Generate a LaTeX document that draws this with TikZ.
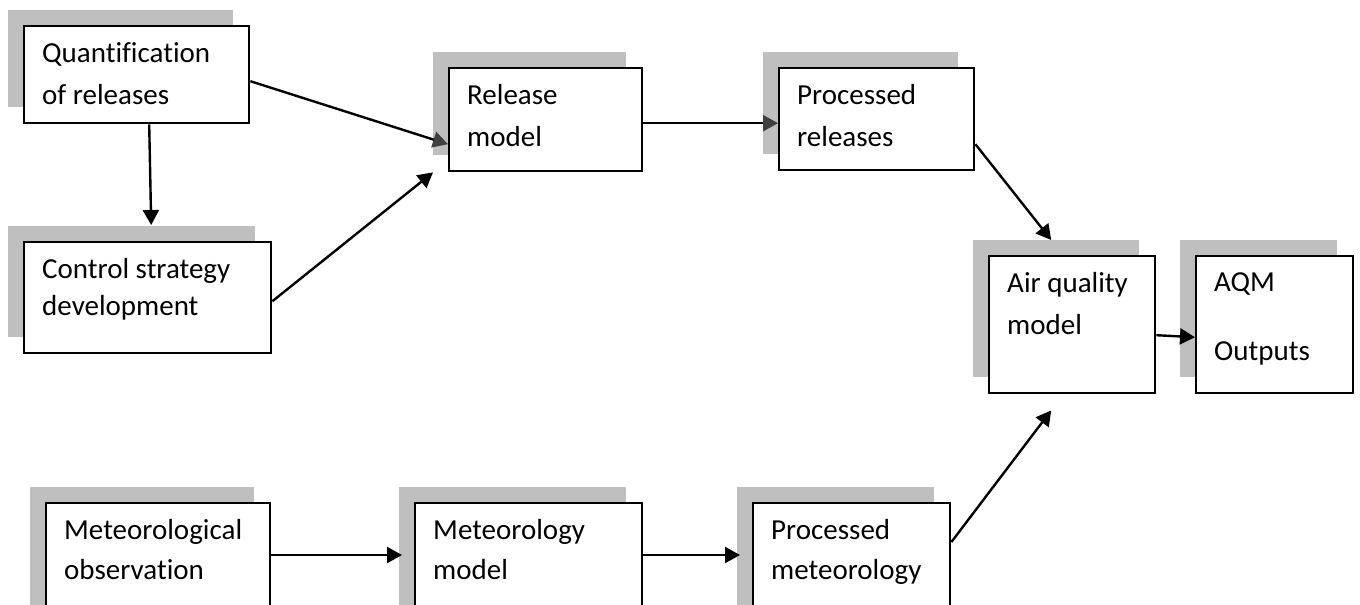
\documentclass[tikz,border=0pt]{standalone}
\usepackage{fontspec}
\setmainfont{Carlito}[Ligatures=CommonOff]
\usetikzlibrary{arrows.meta,shadows}
\definecolor{shadowgray}{RGB}{191,191,191}
\definecolor{tipgray}{RGB}{64,64,64}
\tikzset{
  stage/.style={
    draw=black,
    fill=white,
    line width=2.4pt,
    inner sep=0pt,
    anchor=north west,
    drop shadow={shadow xshift=-16pt, shadow yshift=16pt, fill=shadowgray, opacity=1}
  },
  stage-text/.style={
    anchor=north west,
    xshift=19pt,
    yshift=-17pt,
    inner sep=0pt,
    align=left,
    font=\fontsize{29}{42}\selectfont
  },
  flow/.style={line width=2.4pt, -{Triangle[length=15pt,width=16pt]}},
  flow-grey/.style={line width=2.4pt, -{Triangle[length=15pt,width=16pt,color=tipgray]}}
}

\begin{document}
\begin{tikzpicture}[x=1pt, y=-1pt]
  \useasboundingbox (0,0) rectangle (1360,605);

  % Release branch (top)
  \node[stage, minimum width=225pt, minimum height=97pt,
    label={[stage-text]north west:{Quantification\\of releases}}] (quant) at (23,25) {};
  \node[stage, minimum width=247pt, minimum height=111pt,
    label={[stage-text]north west:{Control strategy\\[-5pt]development}}] (ctrl) at (23,241) {};
  \node[stage, minimum width=193pt, minimum height=103pt,
    label={[stage-text]north west:{Release\\model}}] (rel) at (448,67) {};
  \node[stage, minimum width=195pt, minimum height=102pt,
    label={[stage-text]north west:{Processed\\releases}}] (prel) at (778,67) {};

  % Air quality model and its outputs
  \node[stage, minimum width=166pt, minimum height=137pt,
    label={[stage-text]north west:{Air quality\\model}}] (aqm) at (988,255) {};
  \node[stage, minimum width=157pt, minimum height=137pt,
    label={[stage-text]north west:{AQM\\[27pt]Outputs}}] (out) at (1195,255) {};

  % Meteorology branch (bottom, runs off the page)
  \node[stage, minimum width=224pt, minimum height=140pt,
    label={[stage-text]north west:{Meteorological\\[-2pt]observation}}] (metobs) at (45,502) {};
  \node[stage, minimum width=227pt, minimum height=140pt,
    label={[stage-text]north west:{Meteorology\\[-2pt]model}}] (metmod) at (414,502) {};
  \node[stage, minimum width=197pt, minimum height=140pt,
    label={[stage-text]north west:{Processed\\[-2pt]meteorology}}] (pmet) at (752,502) {};

  % Connectors
  \draw[flow] ([xshift=12.5pt]quant.south) -- ([xshift=3.5pt,yshift=16pt]ctrl.north);
  \draw[flow-grey] ([yshift=-6.5pt]quant.east) -- ([yshift=-24.5pt]rel.west);
  \draw[flow] ([yshift=-3.5pt]ctrl.east) -- ([xshift=-15pt]rel.south west);
  \draw[flow-grey] ([yshift=-3.5pt]rel.east) -- ([yshift=-4pt]prel.west);
  \draw[flow] ([yshift=-25pt]prel.east) -- ([xshift=-21pt,yshift=15pt]aqm.north);
  \draw[flow] ([yshift=-10.5pt]aqm.east) -- ([yshift=-12.5pt]out.west);
  \draw[flow] ([yshift=-40pt]pmet.north east) -- ([xshift=-21pt,yshift=-16pt]aqm.south);
  \draw[flow] ([yshift=-53pt]metobs.north east) -- ([xshift=-12pt,yshift=-53pt]metmod.north west);
  \draw[flow] ([yshift=-53pt]metmod.north east) -- ([xshift=-12pt,yshift=-53pt]pmet.north west);

\end{tikzpicture}
\end{document}
